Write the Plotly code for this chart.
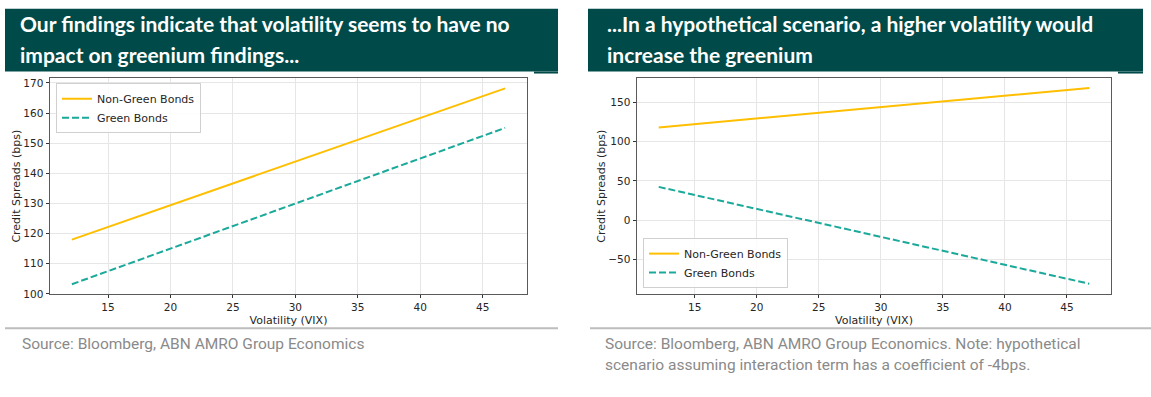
import plotly.graph_objects as go

W, H = 1151, 397

# ---- data ----
vix = [12.1, 46.8]
left_nongreen = [118.0, 168.2]
left_green = [103.2, 155.1]
right_nongreen = [117.8, 168.2]
right_green = [42.3, -81.0]

left_yticks = [100, 110, 120, 130, 140, 150, 160, 170]
right_yticks = [-50, 0, 50, 100, 150]
xticks = [15, 20, 25, 30, 35, 40, 45]

title_left = ["Our findings indicate that volatility seems to have no",
              "impact on greenium findings..."]
title_right = ["...In a hypothetical scenario, a higher volatility would",
               "increase the greenium"]
source_left = ["Source: Bloomberg, ABN AMRO Group Economics"]
source_right = ["Source: Bloomberg, ABN AMRO Group Economics. Note: hypothetical",
                "scenario assuming interaction term has a coefficient of -4bps."]

ORANGE = "#FFBF00"
TEAL = "#1AA99A"
HEADER = "#004B4A"
CHART_FONT = "DejaVu Sans"
TXT = "#262626"

def px(x):
    return x / W

def py(y):
    return 1 - y / H

fig = go.Figure()

fig.add_trace(go.Scatter(x=vix, y=left_nongreen, mode="lines", name="Non-Green Bonds",
                         line=dict(color=ORANGE, width=2), xaxis="x", yaxis="y", legend="legend"))
fig.add_trace(go.Scatter(x=vix, y=left_green, mode="lines", name="Green Bonds",
                         line=dict(color=TEAL, width=2, dash="7px,3px"), xaxis="x", yaxis="y", legend="legend"))
fig.add_trace(go.Scatter(x=vix, y=right_nongreen, mode="lines", name="Non-Green Bonds",
                         line=dict(color=ORANGE, width=2), xaxis="x2", yaxis="y2", legend="legend2"))
fig.add_trace(go.Scatter(x=vix, y=right_green, mode="lines", name="Green Bonds",
                         line=dict(color=TEAL, width=2, dash="7px,3px"), xaxis="x2", yaxis="y2", legend="legend2"))

axis_common = dict(
    showline=True, linecolor="#5A5A5A", linewidth=1, mirror=True,
    showgrid=True, gridcolor="#E6E6E6", gridwidth=1, zeroline=False,
    ticks="outside", ticklen=3.5, tickcolor="#333333", tickwidth=1,
    tickfont=dict(family=CHART_FONT, size=10.5, color=TXT),
)
title_font = dict(family=CHART_FONT, size=11, color=TXT)
legend_font = dict(family=CHART_FONT, size=11, color=TXT)

ydom = [py(298), py(78)]
fig.update_layout(
    width=W, height=H,
    margin=dict(l=0, r=0, t=0, b=0),
    paper_bgcolor="white", plot_bgcolor="white",
    showlegend=True,
    xaxis=dict(domain=[px(50), px(527)], range=[10.35, 48.55], tickvals=xticks, anchor="y",
               title=dict(text="Volatility (VIX)", font=title_font, standoff=4),
               **axis_common),
    yaxis=dict(domain=ydom, range=[99.95, 171.5], tickvals=left_yticks, anchor="x",
               title=dict(text="Credit Spreads (bps)", font=title_font, standoff=0),
               **axis_common),
    xaxis2=dict(domain=[px(637), px(1111)], range=[10.35, 48.55], tickvals=xticks, anchor="y2",
                title=dict(text="Volatility (VIX)", font=title_font, standoff=4),
                **axis_common),
    yaxis2=dict(domain=ydom, range=[-94.0, 180.3], tickvals=right_yticks, anchor="x2",
                title=dict(text="Credit Spreads (bps)", font=title_font, standoff=0),
                **axis_common),
    legend=dict(x=px(56), y=py(83), xanchor="left", yanchor="top",
                bgcolor="rgba(255,255,255,0.85)", bordercolor="#D0D0D0", borderwidth=1,
                font=legend_font, tracegroupgap=0, itemwidth=30),
    legend2=dict(x=px(643), y=py(292), xanchor="left", yanchor="bottom",
                 bgcolor="rgba(255,255,255,0.85)", bordercolor="#D0D0D0", borderwidth=1,
                 font=legend_font, tracegroupgap=0, itemwidth=30),
)

shapes = []
# header boxes
shapes.append(dict(type="rect", xref="paper", yref="paper", x0=px(5), x1=px(558), y0=py(71), y1=py(7),
                   fillcolor=HEADER, line=dict(width=0), layer="below"))
shapes.append(dict(type="rect", xref="paper", yref="paper", x0=px(534), x1=px(558), y0=py(73), y1=py(71),
                   fillcolor=HEADER, line=dict(width=0), layer="below"))
shapes.append(dict(type="rect", xref="paper", yref="paper", x0=px(588), x1=px(1143), y0=py(71), y1=py(7),
                   fillcolor=HEADER, line=dict(width=0), layer="below"))
shapes.append(dict(type="rect", xref="paper", yref="paper", x0=px(1118), x1=px(1143), y0=py(73), y1=py(71),
                   fillcolor=HEADER, line=dict(width=0), layer="below"))
# footer rules
shapes.append(dict(type="line", xref="paper", yref="paper", x0=px(5), x1=px(558), y0=py(333), y1=py(333),
                   line=dict(color="#BDBDBD", width=2)))
shapes.append(dict(type="line", xref="paper", yref="paper", x0=px(590), x1=px(1151), y0=py(333), y1=py(333),
                   line=dict(color="#BDBDBD", width=2)))
fig.update_layout(shapes=shapes)

annotations = []
HFONT = dict(family="Lato", size=21, color="white")
for i, t in enumerate(title_left):
    annotations.append(dict(text="<b>%s</b>" % t, xref="paper", yref="paper", x=px(18), y=py(32 + 31 * i),
                            xanchor="left", yanchor="bottom", showarrow=False, font=HFONT, yshift=-5))
for i, t in enumerate(title_right):
    annotations.append(dict(text="<b>%s</b>" % t, xref="paper", yref="paper", x=px(605), y=py(32 + 31 * i),
                            xanchor="left", yanchor="bottom", showarrow=False, font=HFONT, yshift=-5))
SFONT = dict(family="Roboto", size=15.5, color="#8A8A8A")
for i, t in enumerate(source_left):
    annotations.append(dict(text=t, xref="paper", yref="paper", x=px(20), y=py(356 + 22 * i),
                            xanchor="left", yanchor="bottom", showarrow=False, font=SFONT, yshift=-4))
for i, t in enumerate(source_right):
    annotations.append(dict(text=t, xref="paper", yref="paper", x=px(603), y=py(356 + 22 * i),
                            xanchor="left", yanchor="bottom", showarrow=False, font=SFONT, yshift=-4))
fig.update_layout(annotations=annotations)

fig.write_html("out.html",
               config={"displayModeBar": False},
               post_script="document.body.style.margin='0';document.body.style.padding='0';")
